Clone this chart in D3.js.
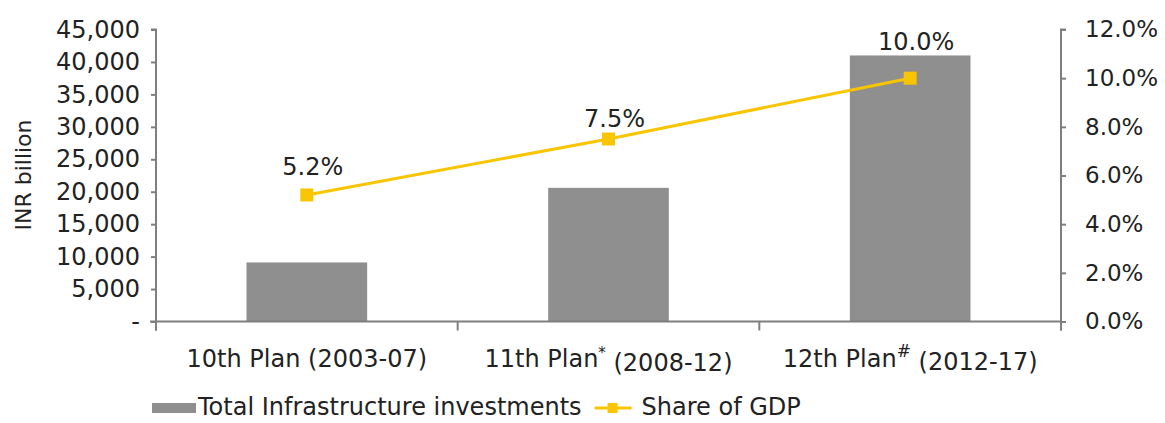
<!DOCTYPE html>
<html>
<head>
<meta charset="utf-8">
<script src="https://cdn.jsdelivr.net/npm/d3@7"></script>
<style>
  html, body { margin: 0; padding: 0; background: #ffffff; }
  svg text { font-family: "DejaVu Sans", Verdana, sans-serif; fill: #222222; }
</style>
</head>
<body>
<svg id="chart" width="1165" height="423"></svg>
<script>
// Plan periods and their figures
const categories = ["10th Plan (2003-07)", "11th Plan* (2008-12)", "12th Plan# (2012-17)"];
const investment = [9100, 20600, 41000];        // INR billion
const gdpShare   = [5.2, 7.5, 10.0];            // % of GDP
const leftTicks  = [0, 5000, 10000, 15000, 20000, 25000, 30000, 35000, 40000, 45000];
const rightTicks = [0, 2, 4, 6, 8, 10, 12];
const seriesNames = ["Total Infrastructure investments", "Share of GDP"];

// layout
const plot = { left: 156, right: 1061, top: 29.5, bottom: 321.5 };
const labelLift = [20, 12, 28];   // how far each value label sits above its marker
const barColor = "#8f8f8f";
const lineColor = "#f8c500";
const axisColor = "#7f7f7f";

const svg = d3.select("#chart");

const x = d3.scaleBand()
  .domain(categories)
  .range([plot.left, plot.right])
  .paddingInner(0.6)
  .paddingOuter(0.3);

const yL = d3.scaleLinear().domain([0, 45000]).range([plot.bottom, plot.top]);
const yR = d3.scaleLinear().domain([0, 12]).range([plot.bottom, plot.top]);

// bars
svg.append("g")
  .selectAll("rect")
  .data(categories)
  .join("rect")
  .attr("x", d => x(d))
  .attr("width", x.bandwidth())
  .attr("y", (d, i) => yL(investment[i]))
  .attr("height", (d, i) => yL(0) - yL(investment[i]))
  .attr("fill", barColor);

// left axis
const gL = svg.append("g")
  .attr("transform", `translate(${plot.left},0)`)
  .call(d3.axisLeft(yL)
    .tickValues(leftTicks)
    .tickSize(5)
    .tickPadding(11)
    .tickFormat(v => v === 0 ? "-" : d3.format(",")(v)));
gL.select(".domain").attr("stroke", axisColor).attr("stroke-width", 2)
  .attr("d", `M-5,${plot.top}H0V${plot.bottom + 9}`);
gL.selectAll(".tick line").attr("stroke", axisColor).attr("stroke-width", 2);
gL.selectAll(".tick text").style("font-size", "24px").attr("fill", "#222");

// right axis
const gR = svg.append("g")
  .attr("transform", `translate(${plot.right},0)`)
  .call(d3.axisRight(yR)
    .tickValues(rightTicks)
    .tickSize(5)
    .tickPadding(19)
    .tickFormat(v => d3.format(".1f")(v) + "%"));
gR.select(".domain").attr("stroke", axisColor).attr("stroke-width", 2)
  .attr("d", `M5,${plot.top}H0V${plot.bottom + 9}`);
gR.selectAll(".tick line").attr("stroke", axisColor).attr("stroke-width", 2);
gR.selectAll(".tick text").style("font-size", "23px").attr("fill", "#222");

// bottom axis: labels centred on bands, tick marks on band boundaries
const gB = svg.append("g")
  .attr("transform", `translate(0,${plot.bottom})`)
  .call(d3.axisBottom(x).tickSize(0).tickPadding(28));
gB.select(".domain").attr("stroke", axisColor).attr("stroke-width", 2)
  .attr("d", `M${plot.left - 6},0H${plot.right}`);
gB.selectAll(".tick text").style("font-size", "24px").attr("fill", "#222")
  .each(function (d) {
    const t = d3.select(this).text("");
    const m = d.match(/^(.*Plan)([*#]?)( .*)$/);
    t.append("tspan").text(m[1]);
    if (m[2]) {
      t.append("tspan").text(m[2] === "*" ? "*" : "#")
        .style("font-size", m[2] === "*" ? "15px" : "17px")
        .attr("dy", "-0.55em");
      t.append("tspan").text(m[3]).attr("dy", m[2] === "*" ? "0.55em" : "0.55em")
        .style("font-size", "24px");
    } else {
      t.append("tspan").text(m[3]);
    }
  });
const step = x.step();
gB.selectAll(".boundary")
  .data(categories.concat([null]))
  .join("line")
  .attr("class", "boundary")
  .attr("x1", (d, i) => plot.left + i * step)
  .attr("x2", (d, i) => plot.left + i * step)
  .attr("y1", 0).attr("y2", 9)
  .attr("stroke", axisColor).attr("stroke-width", 2);

// GDP share line
const cx = d => x(d) + x.bandwidth() / 2;
const pts = categories.map((c, i) => [cx(c), yR(gdpShare[i])]);
svg.append("path")
  .datum(pts)
  .attr("d", d3.line())
  .attr("fill", "none")
  .attr("stroke", lineColor)
  .attr("stroke-width", 3);
svg.append("g")
  .selectAll("rect")
  .data(pts)
  .join("rect")
  .attr("x", d => d[0] - 6.5)
  .attr("y", d => d[1] - 6.5)
  .attr("width", 13).attr("height", 13)
  .attr("fill", lineColor);

// value labels
svg.append("g")
  .selectAll("text")
  .data(pts)
  .join("text")
  .attr("x", d => d[0] + 6)
  .attr("y", (d, i) => d[1] - labelLift[i])
  .attr("text-anchor", "middle")
  .style("font-size", "24px")
  .text((d, i) => d3.format(".1f")(gdpShare[i]) + "%");

// y-axis title
svg.append("text")
  .attr("transform", "translate(31,175) rotate(-90)")
  .attr("text-anchor", "middle")
  .style("font-size", "22px")
  .text("INR billion");

// legend
const lg = svg.append("g").attr("transform", "translate(152,415)");
lg.append("rect").attr("x", 0).attr("y", -12).attr("width", 44).attr("height", 10).attr("fill", barColor);
const t1 = lg.append("text").attr("x", 46).attr("y", 0).style("font-size", "24px").text(seriesNames[0]);
const end1 = 46 + t1.node().getComputedTextLength();
const lx = end1 + 13;
lg.append("line").attr("x1", lx).attr("x2", lx + 37).attr("y1", -7).attr("y2", -7)
  .attr("stroke", lineColor).attr("stroke-width", 3);
lg.append("rect").attr("x", lx + 13).attr("y", -12).attr("width", 10).attr("height", 10).attr("fill", lineColor);
lg.append("text").attr("x", lx + 47).attr("y", 0).style("font-size", "24px").text(seriesNames[1]);
</script>
</body>
</html>
